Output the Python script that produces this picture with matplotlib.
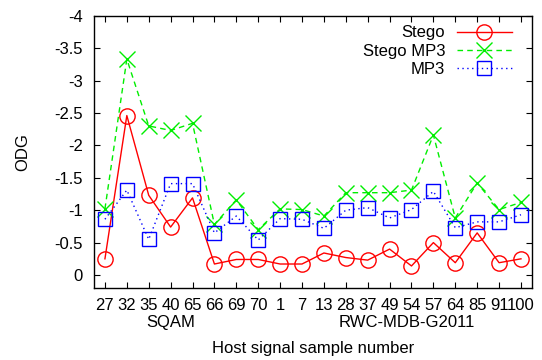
import numpy as np
import matplotlib
matplotlib.use("Agg")
import matplotlib.pyplot as plt

# ---------------------------------------
# Data (ODG per host signal sample)
# ---------------------------------------

samples = ["27", "32", "35", "40", "65", "66", "69", "70", "1", "7",
           "13", "28", "37", "49", "54", "57", "64", "85", "91", "100"]

stego = [-0.25, -2.46, -1.23, -0.74, -1.19, -0.17, -0.24, -0.24, -0.17, -0.17,
         -0.34, -0.27, -0.23, -0.40, -0.14, -0.50, -0.19, -0.65, -0.19, -0.25]

stego_mp3 = [-1.02, -3.33, -2.30, -2.23, -2.34, -0.78, -1.16, -0.70, -1.02, -1.01,
             -0.91, -1.27, -1.27, -1.27, -1.31, -2.16, -0.88, -1.42, -1.01, -1.12]

mp3 = [-0.86, -1.31, -0.55, -1.41, -1.41, -0.65, -0.91, -0.54, -0.87, -0.86,
       -0.72, -1.00, -1.04, -0.88, -1.01, -1.29, -0.73, -0.82, -0.82, -0.93]

groups = ["SQAM", "RWC-MDB-G2011"]
group_pos = [3, 13.8]

yticks = [-4, -3.5, -3, -2.5, -2, -1.5, -1, -0.5, 0]

# ---------------------------------------
# Plot
# ---------------------------------------

plt.rcParams["font.family"] = ["Liberation Sans", "DejaVu Sans"]
plt.rcParams["axes.unicode_minus"] = False
fs = 12

fig = plt.figure(figsize=(5.42, 3.6), dpi=100)
ax = fig.add_axes([0.1734, 0.2, 0.808, 0.7564])

x = np.arange(len(samples))

ax.plot(x, stego, color="#ff0000", lw=1, ls="-",
        marker="o", ms=11, mfc="none", mew=1, label="Stego")
ax.plot(x, stego_mp3, color="#00ee00", lw=1, ls=(0, (4, 3)),
        marker="x", ms=11, mew=1, label="Stego MP3")
ax.plot(x, mp3, color="#0000ff", lw=1, ls=(0, (1, 2.5)),
        marker="s", ms=10.5, mfc="none", mew=1, label="MP3")

ax.set_xlim(-0.5, len(samples) - 0.5)
ax.set_ylim(0.2, -4)
ax.set_xticks(x)
ax.set_xticklabels(samples, fontsize=fs)
ax.set_yticks(yticks)
ax.set_yticklabels([f"{v:g}" for v in yticks], fontsize=fs)

ax.tick_params(direction="in", length=4, width=0.8, top=True, right=True)
ax.tick_params(axis="y", pad=8)
ax.tick_params(axis="x", pad=7)

for sp in ax.spines.values():
    sp.set_linewidth(1)

# dataset names under the tick labels
for name, pos in zip(groups, group_pos):
    ax.text(pos, -0.127, name, transform=ax.get_xaxis_transform(),
            ha="center", va="center", fontsize=fs)

ax.set_xlabel("Host signal sample number", fontsize=fs, va="center")
ax.set_ylabel("ODG", fontsize=fs, va="center")
ax.xaxis.set_label_coords(0.5, -0.224)
ax.yaxis.set_label_coords(-0.162, 0.5)

ax.legend(loc="upper right", frameon=False, markerfirst=False,
          alignment="right", fontsize=fs, handlelength=3.3,
          labelspacing=0.2, handletextpad=0.7,
          borderpad=0, borderaxespad=0,
          bbox_to_anchor=(0.954, 0.964))

fig.savefig("out.png", dpi=100)
